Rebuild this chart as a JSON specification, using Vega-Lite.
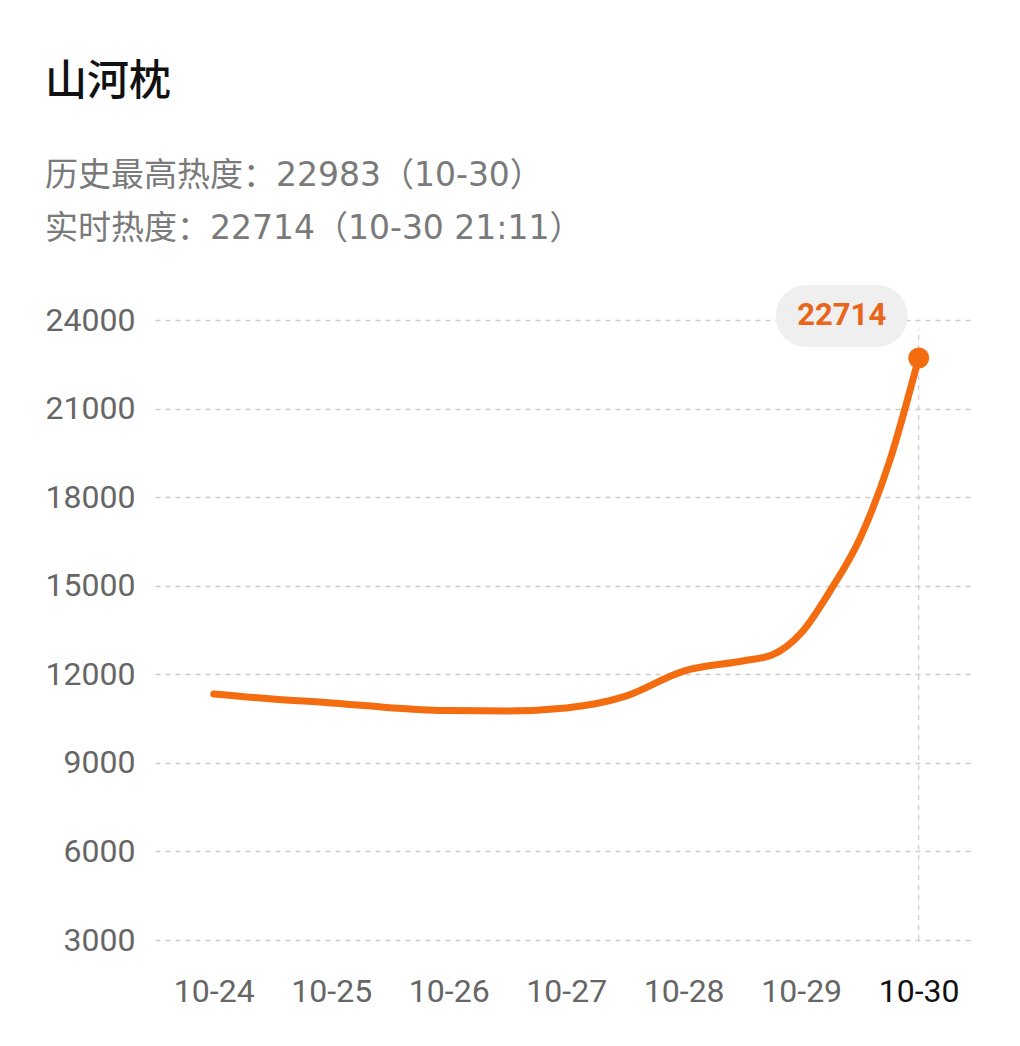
{
  "$schema": "https://vega.github.io/schema/vega-lite/v6.json",
  "width": 820,
  "height": 620,
  "autosize": {"type": "none"},
  "padding": {"left": 155, "top": 320, "right": 45, "bottom": 106},
  "background": "#ffffff",
  "title": {
    "text": "山河枕",
    "subtitle": ["历史最高热度：22983（10-30）", "实时热度：22714（10-30 21:11）"],
    "anchor": "start",
    "frame": "group",
    "dx": -110,
    "offset": 38,
    "font": "Noto Sans CJK SC",
    "fontSize": 42,
    "fontWeight": 500,
    "color": "#111111",
    "subtitleFont": "DejaVu Sans, Noto Sans CJK SC",
    "subtitleFontSize": 33,
    "subtitleColor": "#7a7a7a",
    "subtitleLineHeight": 53,
    "subtitlePadding": 56
  },
  "config": {
    "view": {"stroke": null},
    "axis": {
      "labelFont": "Roboto",
      "labelFontSize": 32,
      "labelColor": "#666666",
      "domain": false,
      "ticks": false,
      "title": null
    }
  },
  "data": {
    "values": [
      {"t": "2024-10-24 00:00", "heat": 11330},
      {"t": "2024-10-24 12:00", "heat": 11160},
      {"t": "2024-10-25 00:00", "heat": 11030},
      {"t": "2024-10-25 12:00", "heat": 10870},
      {"t": "2024-10-26 00:00", "heat": 10770},
      {"t": "2024-10-26 12:00", "heat": 10760},
      {"t": "2024-10-27 00:00", "heat": 10860},
      {"t": "2024-10-27 12:00", "heat": 11250},
      {"t": "2024-10-28 00:00", "heat": 12110},
      {"t": "2024-10-28 12:00", "heat": 12450},
      {"t": "2024-10-28 18:00", "heat": 12650},
      {"t": "2024-10-29 00:00", "heat": 13400},
      {"t": "2024-10-29 06:00", "heat": 14850},
      {"t": "2024-10-29 12:00", "heat": 16600},
      {"t": "2024-10-29 18:00", "heat": 19190},
      {"t": "2024-10-30 00:00", "heat": 22714}
    ]
  },
  "encoding": {
    "x": {
      "field": "t",
      "type": "temporal",
      "scale": {"domain": ["2024-10-23 12:00", "2024-10-30 11:30"]},
      "axis": {
        "format": "%m-%d",
        "tickCount": {"interval": "day", "step": 1},
        "grid": false,
        "labelPadding": 36,
        "labelBaseline": "top",
        "labelColor": {
          "condition": {"test": "date(datum.value) == 30", "value": "#111111"},
          "value": "#666666"
        }
      }
    },
    "y": {
      "field": "heat",
      "type": "quantitative",
      "scale": {"domain": [3000, 24000], "nice": false, "zero": false},
      "axis": {
        "values": [3000, 6000, 9000, 12000, 15000, 18000, 21000, 24000],
        "format": "d",
        "labelPadding": 20,
        "grid": true,
        "gridColor": "#cccccc",
        "gridDash": [5, 5],
        "gridWidth": 1.5
      }
    }
  },
  "layer": [
    {
      "transform": [{"filter": "date(datum.t) == 30"}],
      "mark": {"type": "rule", "color": "#cccccc", "strokeDash": [5, 5], "strokeWidth": 1.2},
      "encoding": {
        "y": {"datum": 3000},
        "y2": {"datum": 23700}
      }
    },
    {
      "mark": {"type": "line", "interpolate": "monotone", "color": "#f36c0f", "strokeWidth": 7, "strokeCap": "round"}
    },
    {
      "transform": [{"filter": "date(datum.t) == 30"}],
      "mark": {"type": "point", "filled": true, "color": "#f36c0f", "opacity": 1, "size": 440}
    },
    {
      "transform": [{"filter": "date(datum.t) == 30"}],
      "mark": {
        "type": "point",
        "filled": true,
        "opacity": 1,
        "color": "#efefef",
        "size": 17424,
        "xOffset": -77,
        "yOffset": -42,
        "shape": "M -0.53,-0.47 L 0.53,-0.47 A 0.47,0.47 0 0 1 0.53,0.47 L -0.53,0.47 A 0.47,0.47 0 0 1 -0.53,-0.47 Z"
      }
    },
    {
      "transform": [{"filter": "date(datum.t) == 30"}],
      "mark": {
        "type": "text",
        "font": "Roboto",
        "fontSize": 31,
        "fontWeight": "bold",
        "color": "#e8661c",
        "dx": -77,
        "dy": -42,
        "align": "center",
        "baseline": "middle"
      },
      "encoding": {"text": {"field": "heat", "type": "quantitative", "format": "d"}}
    }
  ]
}
